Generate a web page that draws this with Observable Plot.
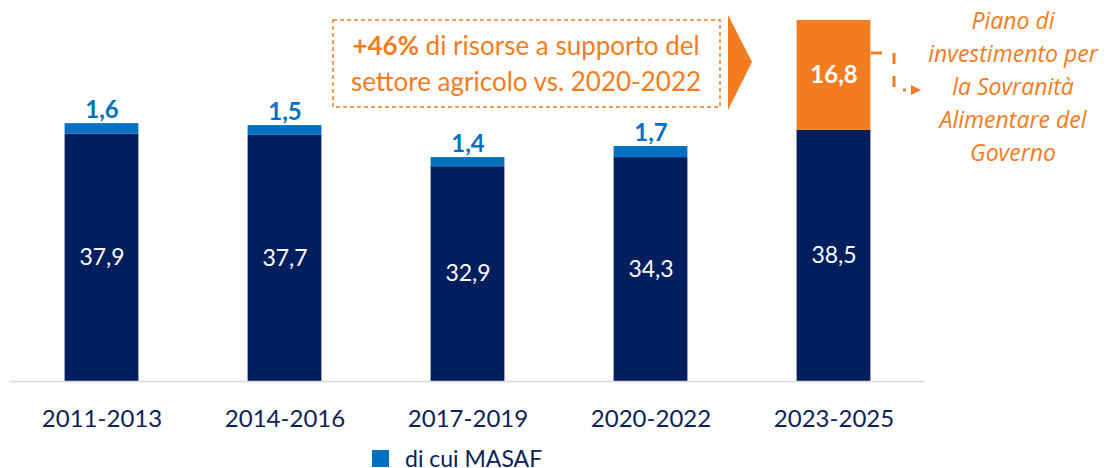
<!DOCTYPE html>
<html><head><meta charset="utf-8">
<script src="https://cdn.jsdelivr.net/npm/d3@7"></script>
<script src="https://cdn.jsdelivr.net/npm/@observablehq/plot@0.6"></script>
<style>
body{margin:0;background:#fff;font-family:Lato, "Noto Sans", sans-serif;}
#chart{position:relative;width:1112px;height:468px;overflow:hidden;}
#chart svg{position:absolute;left:0;top:0;}
.legend{position:absolute;left:372px;top:448px;height:20px;line-height:20px;display:flex;align-items:center;font-size:23px;color:#0d2157;}
.legend .sw{width:17px;height:17px;background:#0070c0;margin-right:16px;}
</style></head>
<body><div id="chart"><div class="legend"><span class="sw"></span><span id="legendText"></span></div></div>
<script>
const periods = ["2011-2013", "2014-2016", "2017-2019", "2020-2022", "2023-2025"];
const baseValues = [37.9, 37.7, 32.9, 34.3, 38.5];
const masafValues = [1.6, 1.5, 1.4, 1.7, null];
const pianoValues = [null, null, null, null, 16.8];
const legendLabel = "di cui MASAF";
const boxLine1Bold = "+46%";
const boxLine1Rest = " di risorse a supporto del";
const boxLine2 = "settore agricolo vs. 2020-2022";
const pianoLines = ["Piano di", "investimento per", "la Sovranità", "Alimentare del", "Governo"];

const NAVY = "#011e5f", BLUE = "#0070c0", ORANGE = "#f47c20", TEXTNAVY = "#0d2157";
const fmt = v => v.toFixed(1).replace(".", ",");
const rows = periods.map((p, i) => ({period: p, base: baseValues[i], masaf: masafValues[i], piano: pianoValues[i]}));
const masafRows = rows.filter(d => d.masaf != null);
const pianoRows = rows.filter(d => d.piano != null);
const INSET = 54.6;
document.getElementById("legendText").textContent = legendLabel;

const plot = Plot.plot({
  width: 1112, height: 436,
  marginLeft: 9, marginRight: 187, marginTop: 20, marginBottom: 55,
  x: {domain: periods, padding: 0, axis: null},
  y: {domain: [0, 55.3], axis: null},
  style: {fontFamily: "Lato, 'Noto Sans', sans-serif", background: "transparent", color: TEXTNAVY, overflow: "visible"},
  marks: [
    Plot.barY(rows, {x: "period", y1: 0, y2: "base", fill: NAVY, insetLeft: INSET, insetRight: INSET}),
    Plot.barY(masafRows, {x: "period", y1: "base", y2: d => d.base + d.masaf, fill: BLUE, insetLeft: INSET, insetRight: INSET}),
    Plot.barY(pianoRows, {x: "period", y1: "base", y2: d => d.base + d.piano, fill: ORANGE, insetLeft: INSET, insetRight: INSET}),
    Plot.ruleY([0], {stroke: "#d9d9d9", strokeWidth: 1.5}),
    Plot.axisX({tickSize: 0, tickPadding: 28, fontSize: 24, fill: TEXTNAVY, label: null}),
    Plot.text(rows, {x: "period", y: d => d.base / 2, text: d => fmt(d.base), fill: "white", fontSize: 23}),
    Plot.text(masafRows, {x: "period", y: d => d.base + d.masaf, text: d => fmt(d.masaf), fill: BLUE, fontSize: 24, fontWeight: "bold", dy: -13}),
    Plot.text(pianoRows, {x: "period", y: d => d.base + d.piano / 2, text: d => fmt(d.piano), fill: "white", fontSize: 24, fontWeight: "bold"})
  ]
});
document.getElementById("chart").prepend(plot);

const svg = d3.select(plot);
const g = svg.append("g");
// dashed annotation box
g.append("rect").attr("x", 333).attr("y", 20).attr("width", 387).attr("height", 87)
  .attr("fill", "none").attr("stroke", ORANGE).attr("stroke-width", 1.5).attr("stroke-dasharray", "4,3");
const t1 = g.append("text").attr("x", 526).attr("y", 55).attr("text-anchor", "middle")
  .attr("fill", ORANGE).attr("font-size", 26).attr("font-family", "Lato, 'Noto Sans', sans-serif");
t1.append("tspan").attr("font-weight", "bold").text(boxLine1Bold);
t1.append("tspan").text(boxLine1Rest);
g.append("text").attr("x", 526).attr("y", 91).attr("text-anchor", "middle")
  .attr("fill", ORANGE).attr("font-size", 26).attr("font-family", "Lato, 'Noto Sans', sans-serif").text(boxLine2);
// chevron
g.append("polygon").attr("points", "728,15 752,62 728,110").attr("fill", ORANGE);
// connector
g.append("path").attr("d", "M871,53 H894 V90 H906").attr("fill", "none").attr("stroke", ORANGE)
  .attr("stroke-width", 3).attr("stroke-dasharray", "11,12");
g.append("polygon").attr("points", "911,85 921,90 911,95").attr("fill", ORANGE);
// italic text
pianoLines.forEach((s, i) => {
  g.append("text").attr("x", 1013).attr("y", 29 + i * 33).attr("text-anchor", "middle")
    .attr("fill", ORANGE).attr("font-size", 23).attr("font-style", "italic")
    .attr("font-family", "'Open Sans', 'Noto Sans', sans-serif").text(s);
});
</script>
</body></html>
